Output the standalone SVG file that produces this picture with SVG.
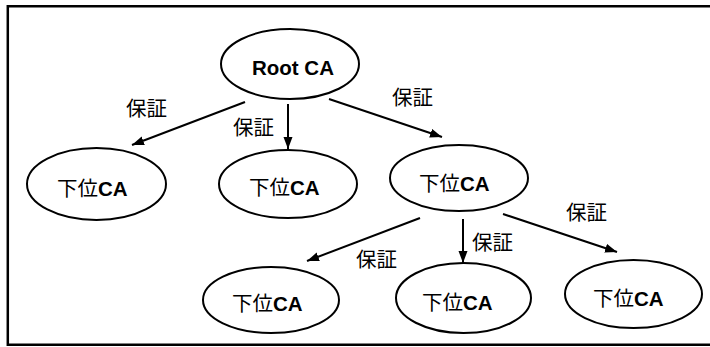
<svg xmlns="http://www.w3.org/2000/svg" width="710" height="347" viewBox="0 0 710 347">
  <style>
    .node { fill: #ffffff; stroke: #000000; stroke-width: 2; }
    .edge { stroke: #000000; stroke-width: 2; fill: none; }
    .jp { font-family: "Noto Sans CJK JP", "Liberation Sans", sans-serif; font-size: 20.5px; fill: #000000; }
    .lat { font-family: "Liberation Sans", Arial, sans-serif; font-size: 20.5px; font-weight: bold; fill: #000000; }
  </style>
  <defs>
    <marker id="arrow" markerUnits="userSpaceOnUse" markerWidth="13" markerHeight="10" refX="12" refY="4.5" orient="auto">
      <path d="M0,0 L12,4.5 L0,9 z" fill="#000000"/>
    </marker>
  </defs>

  <rect x="0" y="0" width="710" height="347" fill="#ffffff"/>

  <!-- frame: open on the right -->
  <path d="M712,6.3 H7.8 V344.7 H712" fill="none" stroke="#000000" stroke-width="2.5"/>

  <!-- connectors -->
  <g id="edges">
    <line class="edge" x1="245" y1="102" x2="132" y2="145" marker-end="url(#arrow)"/>
    <line class="edge" x1="288" y1="104" x2="288" y2="149" marker-end="url(#arrow)"/>
    <line class="edge" x1="329" y1="99" x2="442" y2="137" marker-end="url(#arrow)"/>
    <line class="edge" x1="420" y1="218" x2="307" y2="261" marker-end="url(#arrow)"/>
    <line class="edge" x1="463" y1="219" x2="463" y2="263" marker-end="url(#arrow)"/>
    <line class="edge" x1="503" y1="214" x2="617" y2="252" marker-end="url(#arrow)"/>
    <text class="jp" x="126" y="116">保証</text>
    <text class="jp" x="233" y="135">保証</text>
    <text class="jp" x="392" y="105">保証</text>
    <text class="jp" x="356" y="267">保証</text>
    <text class="jp" x="472" y="250">保証</text>
    <text class="jp" x="566" y="220">保証</text>
  </g>

  <g id="root">
    <ellipse class="node" cx="290" cy="64" rx="69" ry="35"/>
    <text class="lat" x="252" y="75">Root CA</text>
  </g>
  <g id="sub-left">
    <ellipse class="node" cx="96.5" cy="184" rx="69.5" ry="36"/>
    <text x="57" y="196"><tspan class="jp">下位</tspan><tspan class="lat">CA</tspan></text>
  </g>
  <g id="sub-middle">
    <ellipse class="node" cx="288" cy="184" rx="69" ry="34"/>
    <text x="249" y="195"><tspan class="jp">下位</tspan><tspan class="lat">CA</tspan></text>
  </g>
  <g id="sub-right">
    <ellipse class="node" cx="459" cy="178" rx="69" ry="33"/>
    <text x="419" y="191"><tspan class="jp">下位</tspan><tspan class="lat">CA</tspan></text>
  </g>
  <g id="leaf-left">
    <ellipse class="node" cx="271" cy="300" rx="68" ry="33"/>
    <text x="232" y="311"><tspan class="jp">下位</tspan><tspan class="lat">CA</tspan></text>
  </g>
  <g id="leaf-middle">
    <ellipse class="node" cx="463.5" cy="298" rx="67.5" ry="35"/>
    <text x="422" y="310"><tspan class="jp">下位</tspan><tspan class="lat">CA</tspan></text>
  </g>
  <g id="leaf-right">
    <ellipse class="node" cx="633.5" cy="294" rx="68.5" ry="34"/>
    <text x="593" y="306"><tspan class="jp">下位</tspan><tspan class="lat">CA</tspan></text>
  </g>
</svg>
